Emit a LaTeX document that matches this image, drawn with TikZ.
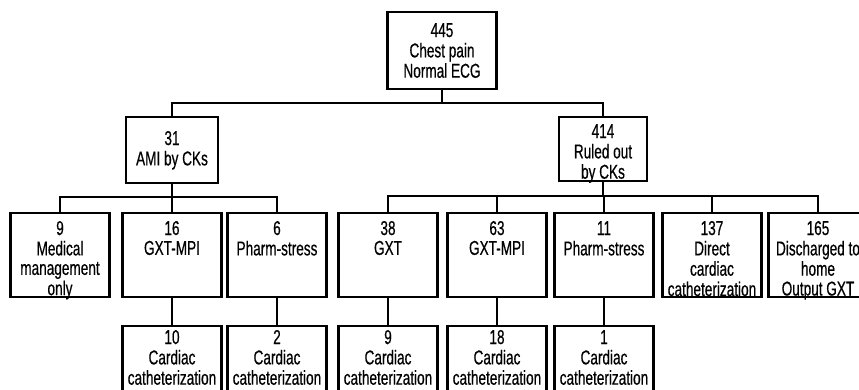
\documentclass[tikz,border=0pt]{standalone}
\usepackage{fontspec}
\setmainfont{Liberation Sans}[FakeStretch=0.68, FakeBold=0.5]
\usetikzlibrary{positioning}

% stacked lines, baseline on the first one
\newcommand{\boxtext}[1]{\begin{tabular}[t]{@{}c@{}}#1\end{tabular}}

\begin{document}
\begin{tikzpicture}[x=1pt, y=-1pt,
    box/.style={draw, line width=2.8pt, outer sep=0pt,
        inner xsep=2pt, inner ysep=3pt, minimum width=99pt, anchor=north,
        font=\fontsize{20}{19.5}\selectfont},
    third/.style={box, text height=19pt, text depth=59pt},
    cath/.style={box, text height=15pt, text depth=60pt},
    link/.style={line width=1.8pt}]

\useasboundingbox (0,0) rectangle (859,389);

% Root box
\node[box, minimum width=109pt, text height=22pt, text depth=49pt] (root) at (442,12) {\boxtext{445\\Chest pain\\Normal ECG}};

% AMI and ruled out
\node[box, minimum width=92pt, text height=25pt, text depth=35pt] (ami) at (172,117) {\boxtext{31\\AMI by CKs}};
\node[box, minimum width=88pt, text height=18pt, text depth=40pt] (ruled) at (603,117) {\boxtext{414\\Ruled out\\by CKs}};

\draw[link] (root.south) -- ++(0,14) -| (ami.north);
\draw[link] (root.south) -- ++(0,14) -| (ruled.north);

% Branches under AMI
\foreach \name/\x/\txt in {med/60/{9\\Medical\\management\\only}, mpiA/172/{16\\GXT-MPI}, pharmA/277/{6\\Pharm-stress}}
{
    \node[third] (\name) at (\x,213) {\boxtext{\txt}};
    \draw[link] (ami.south) -- ++(0,14) -| (\name.north);
}

% Branches under ruled out
\foreach \name/\x/\txt in {gxt/388/{38\\GXT}, mpiB/497/{63\\GXT-MPI}, pharmB/604/{11\\Pharm-stress}, direct/712/{137\\Direct\\cardiac\\catheterization}, home/818/{165\\Discharged to\\home\\Output GXT}}
{
    \node[third] (\name) at (\x,213) {\boxtext{\txt}};
    \draw[link] (ruled.south) -- ++(0,15) -| (\name.north);
}

% Cardiac catheterization
\foreach \parent/\cnt in {mpiA/10, pharmA/2, gxt/9, mpiB/18, pharmB/1}
{
    \node[cath, below=29pt of \parent] (cath\cnt) {\boxtext{\cnt\\Cardiac\\catheterization}};
    \draw[link] (\parent) -- (cath\cnt);
}

\end{tikzpicture}
\end{document}
